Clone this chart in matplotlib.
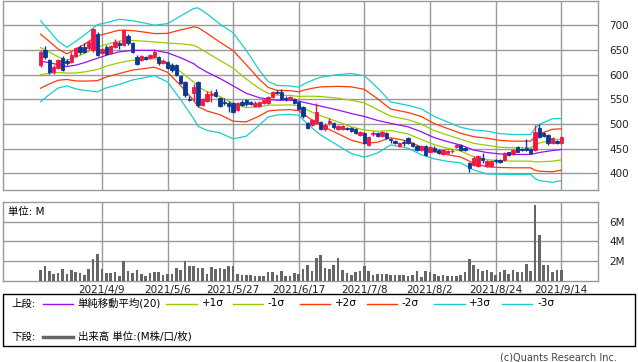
import matplotlib.pyplot as plt
from matplotlib.lines import Line2D
from matplotlib.patches import Rectangle

plt.rcParams['font.family'] = ['DejaVu Sans', 'Noto Sans CJK JP']

# 日足データ (2021/3/22 - 2021/9/14)
opens = [619, 649, 629, 606, 614, 634, 628, 626, 637, 655, 656, 653, 649, 683, 644, 655, 644, 656, 664, 660,
         678, 663, 636, 629, 635, 633, 636, 635, 623, 626, 620, 619, 598, 585, 551, 562, 585, 538, 546, 558,
         565, 552, 545, 543, 542, 529, 545, 548, 545, 537, 537, 542, 543, 555, 565, 564, 553, 550, 550, 545,
         535, 501, 498, 501, 504, 490, 502, 502, 490, 490, 492, 491, 490, 478, 481, 457, 479, 482, 476, 481,
         470, 466, 455, 463, 471, 462, 456, 448, 456, 444, 452, 447, 439, 441, 445, 453, 457, 452, 420, 417,
         415, 430, 415, 415, 427, 427, 427, 442, 439, 453, 449, 452, 449, 447, 491, 481, 478, 462, 466, 461]
highs = [650, 657, 632, 619, 632, 637, 632, 645, 656, 660, 664, 670, 694, 686, 653, 659, 660, 672, 668, 693,
         682, 665, 639, 640, 638, 641, 651, 637, 631, 628, 623, 621, 600, 587, 556, 580, 587, 552, 566, 568,
         570, 554, 552, 546, 544, 545, 548, 551, 547, 546, 547, 550, 557, 567, 568, 570, 557, 557, 552, 547,
         537, 503, 510, 542, 506, 501, 512, 504, 498, 497, 494, 493, 492, 486, 483, 475, 486, 484, 486, 483,
         472, 468, 463, 468, 473, 464, 458, 457, 458, 456, 455, 449, 449, 448, 450, 460, 459, 454, 422, 434,
         436, 440, 426, 426, 429, 429, 443, 444, 450, 456, 451, 469, 451, 498, 500, 484, 480, 473, 468, 476]
lows = [615, 632, 602, 601, 612, 608, 620, 624, 635, 641, 644, 650, 646, 637, 642, 639, 642, 654, 652, 658,
        660, 644, 619, 627, 629, 631, 634, 620, 621, 611, 606, 597, 580, 555, 546, 546, 535, 536, 544, 544,
        554, 534, 538, 525, 523, 527, 536, 537, 538, 535, 535, 540, 541, 553, 560, 548, 547, 548, 540, 529,
        512, 489, 496, 499, 488, 485, 498, 490, 488, 488, 488, 483, 480, 476, 460, 455, 476, 474, 474, 470,
        462, 459, 453, 455, 460, 453, 446, 446, 435, 442, 443, 439, 437, 439, 441, 451, 445, 445, 403, 415,
        413, 421, 413, 413, 421, 420, 425, 435, 437, 442, 446, 445, 439, 445, 472, 474, 458, 460, 459, 459]
closes = [646, 635, 605, 616, 629, 610, 623, 639, 653, 645, 646, 666, 693, 640, 651, 641, 658, 666, 660, 690,
          664, 646, 622, 637, 632, 639, 646, 623, 628, 614, 610, 600, 582, 558, 549, 575, 538, 550, 560, 561,
          557, 537, 543, 537, 525, 542, 539, 540, 540, 543, 545, 548, 555, 565, 562, 550, 551, 555, 542, 531,
          515, 491, 508, 525, 490, 498, 505, 494, 496, 495, 490, 485, 482, 484, 462, 473, 481, 476, 484, 472,
          468, 462, 461, 461, 462, 455, 448, 455, 437, 454, 445, 441, 447, 446, 446, 458, 447, 447, 410, 430,
          434, 426, 424, 424, 424, 422, 440, 437, 447, 444, 447, 447, 441, 484, 474, 476, 461, 471, 461, 474]
# 出来高 (M)
volumes = [1.15, 1.49, 1.04, 0.74, 0.80, 1.25, 0.74, 1.15, 0.91, 0.80, 0.63, 1.25, 2.17, 2.68, 1.25, 0.80, 0.80, 0.87, 0.53, 2.00,
           0.97, 0.80, 1.08, 0.74, 0.46, 0.80, 0.87, 0.87, 0.56, 0.70, 0.74, 1.32, 1.15, 2.00, 1.56, 1.49, 1.35, 1.35, 0.74, 1.38,
           1.21, 1.35, 1.21, 1.56, 1.56, 0.74, 0.63, 0.63, 0.63, 0.53, 0.53, 0.53, 0.87, 0.94, 0.63, 1.04, 0.53, 0.53, 0.80, 0.74,
           1.25, 1.66, 0.97, 2.34, 2.58, 1.32, 1.25, 1.66, 2.34, 1.08, 0.80, 0.63, 0.87, 0.97, 1.49, 1.04, 0.63, 0.74, 0.74, 0.74,
           0.63, 0.63, 0.63, 0.63, 0.46, 0.63, 0.97, 0.39, 1.04, 0.91, 0.74, 0.53, 0.63, 0.53, 0.53, 0.53, 0.63, 0.87, 2.17, 1.59,
           1.25, 0.97, 1.08, 0.87, 0.63, 0.87, 1.15, 0.74, 1.15, 0.87, 0.87, 1.76, 1.04, 7.64, 4.63, 1.66, 1.66, 0.87, 1.08, 1.15]

# ボリンジャーバンド (20日移動平均と標準偏差, 読み取り値)
band_idx = [0, 2, 4, 6, 8, 10, 13, 15, 18, 21, 24, 26, 29, 32, 35, 36, 38, 41, 44, 47,
            50, 52, 54, 57, 59, 60, 62, 64, 68, 71, 74, 77, 80, 84, 87, 90, 93, 96, 99, 102,
            105, 108, 112, 113, 114, 117, 119]
band_ma = [627, 624, 620, 616, 619, 624, 633, 639, 646, 649, 649, 649, 644, 634, 622, 615, 605, 592, 577, 562,
           553, 550, 548, 548, 546, 544, 540, 536, 528, 521, 515, 507, 501, 494, 484, 472, 464, 457, 447, 442,
           439, 438, 438, 440, 442, 446, 448]
band_sd = [27.4, 21.5, 15.8, 13, 16, 18.7, 22.7, 22, 22, 20, 18.3, 17, 19.7, 28.2, 37.3, 40, 39.4, 36.7, 35.8, 29,
           18.5, 12, 10, 9.6, 9.5, 12, 16, 19.5, 24, 27, 27.5, 22, 14.5, 14.5, 15.5, 14.3, 13.3, 12, 13.5, 14.5,
           13.7, 13.5, 13.5, 17, 19, 21.5, 21]

tick_pos = [14, 29, 44, 59, 74, 89, 104, 119]
tick_labels = ['2021/4/9', '2021/5/6', '2021/5/27', '2021/6/17', '2021/7/8', '2021/8/2', '2021/8/24', '2021/9/14']
price_ticks = [400, 450, 500, 550, 600, 650, 700]

W, H = 638, 362
UP = '#f0164a'
DOWN = '#0d3796'
GRID = '#999999'

fig = plt.figure(figsize=(W / 100, H / 100), dpi=100)


def box(x0, y0, x1, y1):
    return [x0 / W, 1 - y1 / H, (x1 - x0) / W, (y1 - y0) / H]


def fp(x, y):
    return x / W, 1 - y / H


ax = fig.add_axes(box(3, 0.5, 598, 190))
axv = fig.add_axes(box(3, 201.7, 598, 281))

for a in (ax, axv):
    a.set_xlim(-8.6, 127.4)
    a.set_xticks(tick_pos)
    a.grid(True, color=GRID, lw=1)
    a.set_axisbelow(True)
    for s in a.spines.values():
        s.set_color(GRID)
        s.set_linewidth(1)
    a.yaxis.tick_right()
    a.tick_params(length=0, labelsize=7.5, pad=8, colors='#222222')

# ローソク足
x = list(range(len(closes)))
bands = [(3, '#1ccccc'), (2, '#ff3a0a'), (1, '#99cc00')]
for k, c in bands:
    ax.plot(band_idx, [m + k * s for m, s in zip(band_ma, band_sd)], color=c, lw=0.9)
    ax.plot(band_idx, [m - k * s for m, s in zip(band_ma, band_sd)], color=c, lw=0.9)
ax.plot(band_idx, band_ma, color='#9a10f0', lw=0.9)

colors = [UP if c >= o else DOWN for o, c in zip(opens, closes)]
ax.vlines(x, lows, highs, colors=colors, lw=1, zorder=3)
ax.bar(x, [abs(c - o) for o, c in zip(opens, closes)], bottom=[min(o, c) for o, c in zip(opens, closes)],
       width=0.75, color=colors, edgecolor=colors, linewidth=0.6, zorder=4)

ax.set_ylim(366, 750)
ax.set_yticks(price_ticks)
ax.set_xticklabels([])

# 出来高
axv.bar(x, volumes, width=0.6, color='#666666', zorder=3)
axv.set_ylim(0, 8)
axv.set_yticks([2, 4, 6])
axv.set_yticklabels(['2M', '4M', '6M'])
axv.set_xticklabels(tick_labels)
axv.tick_params(axis='x', pad=3)
axv.text(0.008, 0.93, '単位: M', transform=axv.transAxes, fontsize=7.5, va='top', ha='left')

# 凡例
fig.add_artist(Rectangle(fp(3, 346), 632 / W, 52 / H, transform=fig.transFigure,
                         facecolor='none', edgecolor='black', lw=1))
y1 = 303.5
fig.text(*fp(11, y1), '上段:', fontsize=7.5, va='center')
legend_items = [
    (43, 73, '#9a10f0', 77, '単純移動平均(20)'),
    (166, 197, '#99cc00', 202, '+1σ'),
    (233, 263, '#99cc00', 268, '-1σ'),
    (300, 330, '#ff3a0a', 335, '+2σ'),
    (367, 397, '#ff3a0a', 402, '-2σ'),
    (434, 465, '#1ccccc', 469, '+3σ'),
    (502, 532, '#1ccccc', 537, '-3σ'),
]
for xa, xb, c, xt, label in legend_items:
    fig.add_artist(Line2D([xa / W, xb / W], [1 - y1 / H] * 2, transform=fig.transFigure, color=c, lw=1))
    fig.text(*fp(xt, y1), label, fontsize=7.5, va='center')

y2 = 336.5
fig.text(*fp(11, y2), '下段:', fontsize=7.5, va='center')
fig.add_artist(Line2D([43 / W, 73 / W], [1 - y2 / H] * 2, transform=fig.transFigure, color='#666666', lw=2.5))
fig.text(*fp(78, y2), '出来高 単位:(M株/口/枚)', fontsize=7.5, va='center')

fig.text(*fp(617, 357), '(c)Quants Research Inc.', fontsize=7, ha='right', va='center', color='#444444')

fig.savefig('out.png', dpi=100)
